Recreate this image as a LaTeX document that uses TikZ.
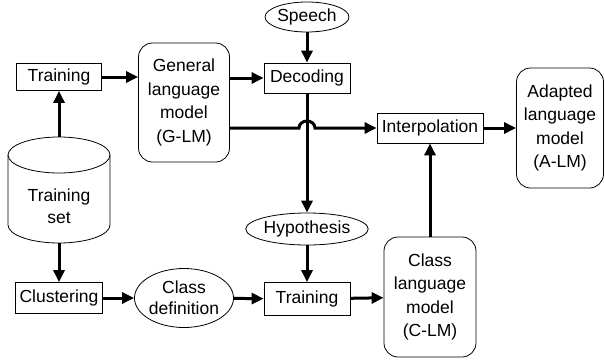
\documentclass[tikz,border=0pt]{standalone}
\usepackage{fontspec}
\setmainfont{Liberation Sans}
\usetikzlibrary{arrows.meta,shapes.geometric}
\begin{document}
\begin{tikzpicture}[x=1pt,y=-1pt, font=\fontsize{17.5}{23.5}\selectfont,
 box/.style={draw, line width=0.8pt, inner sep=0pt, align=center},
 rbox/.style={draw, rounded corners=14pt, line width=0.8pt, align=center, inner sep=0pt},
 oval/.style={draw, ellipse, line width=0.8pt, inner sep=0pt, align=center},
 arr/.style={line width=3pt, -{Triangle[length=12pt,width=11pt]}},
 thin/.style={line width=0.8pt}]
\useasboundingbox (0,0) rectangle (605,362);
% nodes
\node[box, minimum width=85pt, minimum height=27pt] (train1) at (59,77) {Training};
\node[rbox, minimum width=91pt, minimum height=119pt] (glm) at (184,102.5) {General\\language\\model\\(G-LM)};
\node[oval, minimum width=82pt, minimum height=30pt] (speech) at (307,17) {Speech};
\node[box, minimum width=86pt, minimum height=30pt] (dec) at (307,78) {Decoding};
\node[box, minimum width=106pt, minimum height=30pt] (interp) at (430,128) {Interpolation};
\node[rbox, minimum width=87pt, minimum height=120pt] (alm) at (560,128) {Adapted\\language\\model\\(A-LM)};
\node[oval, minimum width=100pt, minimum height=32pt] (hyp) at (307,229) {Hypothesis};
\node[box, minimum width=86pt, minimum height=33pt] (train2) at (307,299) {Training};
\node[rbox, minimum width=92pt, minimum height=120pt] (clm) at (430,297) {Class\\language\\model\\(C-LM)};
\node[box, minimum width=87pt, minimum height=31pt] (clus) at (59,298) {Clustering};
\node[oval, minimum width=88pt, minimum height=59pt, font=\fontsize{17.5}{21}\selectfont] (cdef) at (184,298) {Class\\definition};
% cylinder
\draw[thin] (59,155) ellipse [x radius=51pt, y radius=18pt];
\draw[thin] (8,155) -- (8,225) arc[start angle=180, end angle=360, x radius=51pt, y radius=18pt] -- (110,155);
\node[align=center, font=\fontsize{17.5}{22}\selectfont] (ts) at (59,206) {Training\\set};
\coordinate (cyltop) at (59,137);
\coordinate (cylbot) at (59,243);
% connectors
\draw[arr] (cyltop) -- (train1.south);
\draw[arr] (train1.east) -- (train1.east -| glm.west);
\draw[arr] (glm.east |- dec) -- (dec.west);
\draw[arr] (speech) -- (dec);
\draw[arr] (dec) -- (hyp);
\draw[arr] (hyp) -- (train2);
\draw[arr] (glm.east |- interp) -- ([xshift=-8pt]dec.south |- interp) arc[start angle=180, end angle=0, x radius=8pt, y radius=7pt] -- (interp.west);
\draw[arr] (interp) -- (alm);
\draw[arr] (clm.north) -- (interp.south);
\draw[arr] (train2) -- (clm);
\draw[arr] (cylbot) -- (clus.north);
\draw[arr] (clus) -- (cdef);
\draw[arr] (cdef) -- (train2);
\end{tikzpicture}
\end{document}
